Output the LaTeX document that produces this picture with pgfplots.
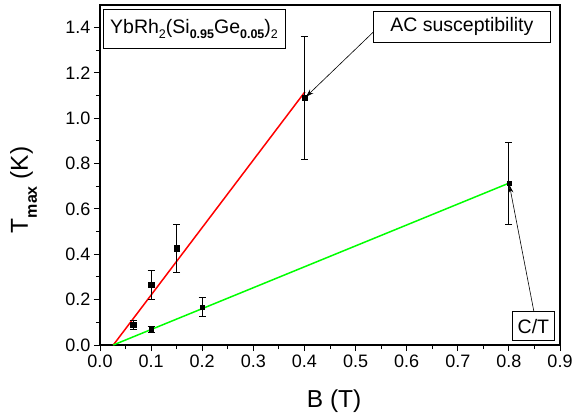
\documentclass[border=0pt]{standalone}
\usepackage{fontspec}
\setmainfont{Liberation Sans}
\usepackage{pgfplots}
\pgfplotsset{compat=1.18}
\usetikzlibrary{arrows.meta}
\newcommand{\subn}[1]{\raisebox{-5pt}{\fontsize{12.5}{12.5}\selectfont #1}}
\newcommand{\subb}[1]{\raisebox{-5pt}{\fontsize{12.5}{12.5}\selectfont\bfseries #1}}
\pgfplotstableread{
x y e
0.065 0.088 0.020
0.100 0.265 0.065
0.150 0.427 0.106
0.400 1.090 0.272
}\ac
\pgfplotstableread{
x y e
0.100 0.069 0.015
0.200 0.166 0.042
0.800 0.713 0.179
}\ct
\begin{document}
\begin{tikzpicture}
\begin{axis}[
  width=460pt, height=340pt, scale only axis,
  xmin=0, xmax=0.9, ymin=0, ymax=1.5,
  xtick={0,0.1,0.2,0.3,0.4,0.5,0.6,0.7,0.8,0.9},
  ytick={0,0.2,0.4,0.6,0.8,1.0,1.2,1.4},
  minor x tick num=1, minor y tick num=1,
  tick pos=left, tick align=outside,
  major tick length=6pt, minor tick length=4pt,
  every tick/.style={black, line width=1pt},
  axis line style={black, line width=1.2pt},
  /pgf/number format/assume math mode=true,
  xticklabel style={font=\fontsize{18}{20}\selectfont, /pgf/number format/.cd, fixed, fixed zerofill, precision=1},
  yticklabel style={font=\fontsize{18}{20}\selectfont, /pgf/number format/.cd, fixed, fixed zerofill, precision=1},
  xlabel={B (T)},
  xlabel style={font=\fontsize{24.5}{28}\selectfont, at={(axis description cs:0.509,-0.185)}, anchor=base},
  ylabel={T\raisebox{-9pt}{\fontsize{16}{16}\selectfont\bfseries max} (K)},
  ylabel style={font=\fontsize{24.5}{28}\selectfont, at={(axis description cs:-0.1957,0.456)}, anchor=north, rotate=0, inner sep=0pt},
]
\addplot[red, line width=1.5pt] coordinates {(0.026,0) (0.401,1.117)};
\addplot[green, line width=1.5pt] coordinates {(0.026,0) (0.799,0.713)};
\addplot[only marks, mark=square*, mark size=2.6pt, black,
  error bars/.cd, y dir=both, y explicit,
  error bar style={line width=0.8pt, black},
  error mark options={rotate=90, mark size=3.5pt, line width=0.8pt, black}]
  table[x=x, y=y, y error=e] {\ac};
\addplot[only marks, mark=square*, mark size=2pt, black,
  error bars/.cd, y dir=both, y explicit,
  error bar style={line width=0.8pt, black},
  error mark options={rotate=90, mark size=3.5pt, line width=0.8pt, black}]
  table[x=x, y=y, y error=e] {\ct};
\node[draw, line width=0.8pt, minimum width=182pt, minimum height=39pt, inner sep=0pt,
  font=\fontsize{19.5}{22}\selectfont] at (axis cs:0.184,1.395)
  {YbRh\subn{2}(Si\subb{0.95}Ge\subb{0.05})\subn{2}};
\node[draw, line width=0.8pt, minimum width=177pt, minimum height=31pt, inner sep=0pt,
  font=\fontsize{19.5}{22}\selectfont] at (axis cs:0.708,1.404) {AC susceptibility};
\draw[-{Stealth[length=8pt,width=5pt]}, line width=0.6pt] (axis cs:0.534,1.379) -- (axis cs:0.403,1.095);
\node[draw, line width=0.8pt, minimum width=42pt, minimum height=29pt, inner sep=0pt,
  font=\fontsize{19.5}{22}\selectfont] at (axis cs:0.848,0.083) {C/T};
\draw[-{Stealth[length=8pt,width=5pt]}, line width=0.6pt] (axis cs:0.849,0.147) -- (axis cs:0.801,0.706);
\end{axis}
\pgfresetboundingbox
\path (current axis.south west) ++(-100pt,-72pt) rectangle ++(572pt,417pt);
\end{tikzpicture}
\end{document}
